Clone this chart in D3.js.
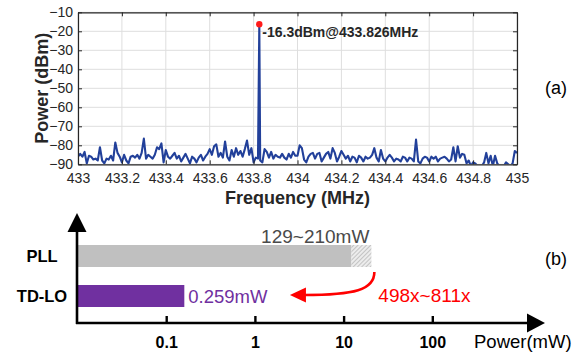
<!DOCTYPE html>
<html><head><meta charset="utf-8">
<script src="https://cdn.jsdelivr.net/npm/d3@7"></script>
<style>body{margin:0;background:#fff} svg{display:block;font-family:"Liberation Sans",Arial,sans-serif}</style>
</head><body><svg id="c" width="585" height="352"></svg>
<script>
// ---------- data (a) spectrum ----------
const freqStart = 433, freqStep = 0.01; // MHz grid of the noise trace
const noiseDbm = [
-86,-84.5,-86,-83.5,-89.5,-85.5,-86,-87.5,-87,-88,
-81,-88,-89.5,-87,-87.5,-85.5,-88,-78.5,-84,-86,
-89,-85,-88,-89.5,-86,-85.5,-86.5,-85,-87,-84,
-76.5,-87,-85,-86,
-87,-85,-81,-82,-79,-89,-82.5,-86,-87,-85.5,-84,-87,-85.5,-88.5,-86.5,-84.5,
-87,-89.5,-86,-87,-89,-86.5,-85,-88,-86,-84.5,-82,-85,-80.5,-79.5,-86,-84,
-86.5,-78,-86,-88,-82.5,-86,-81.5,-85,-83,-86,-82,-77.5,-85,-81.5,-89,-86.5,
-87,-88,-89,-82,-83.5,-86.5,-83.5,-87,-85,-86,-86.5,-84.5,-86.5,-87.5,-84.5,-86.5,-83.5,-85.5,
-85.5,-80,-81.5,-87.5,-89,-86,-84.5,-84,-87,-84.5,-84,-88.5,-86.5,-84.5,-83.5,-87,
-81.5,-84,-88.5,-86,-83,-85,-87,-85.5,-88.5,-86,-86.5,-89,-85.5,-86.5,-88.5,-86,-87,
-86.5,-85,-81.5,-86.5,-88.5,-82.5,-87,-88.5,-86.5,-85,-86.5,-88.5,-87,-87.5,-88.5,-86,
-86.5,-88.5,-86.5,-87,-88.5,-77,-88.5,-89.5,-87,-86,-86.5,-88.5,-86,-87,-86,-88.5,-87,
-86.5,-86,-87,-88.5,-87.5,-81,-88.5,-80.5,-86.5,-84.5,-85,-89.5,-88,-91,-89,-89.5,
-91,-91,-91,-89,-84,-89.5,-85.5,-91,-85.5,-89.5,-91,-91,-91,-89,-90,-91,-89.5,-83,-84
];
const peakFreq = [433.826];
const peakDbm = [-16.3];
const peakLabel = "-16.3dBm@433.826MHz";
const xTicksA = [433,433.2,433.4,433.6,433.8,434,434.2,434.4,434.6,434.8,435];
const yTicksA = [-10,-20,-30,-40,-50,-60,-70,-80,-90];

// ---------- data (b) power comparison ----------
const barCats = ["PLL","TD-LO"];
const barSolidEnd = [12.1, 0.158];   // drawn on the log axis as in the figure
const barHatchEnd = [20.3, 0.158];
const barLabels = ["129~210mW","0.259mW"];
const barColors = ["#c0c0c0","#7030a0"];
const barLabelColors = ["#4a4a4a","#7030a0"];
const xTicksB = [0.1,1,10,100];
const xTickLabelsB = ["0.1","1","10","100"];
const ratioLabel = "498x~811x";

const svg = d3.select("#c");
const axisCol = "#262626";

// ================= (a) =================
const L=78,R=517,T=12.3,B=164.3;
const x = d3.scaleLinear().domain([433,435]).range([L,R]);
const y = d3.scaleLinear().domain([-90,-10]).range([B,T]);

const gA = svg.append("g");
// grid
gA.append("g").selectAll("line").data(xTicksA).join("line")
  .attr("x1",d=>x(d)).attr("x2",d=>x(d)).attr("y1",T).attr("y2",B)
  .attr("stroke","#dedede").attr("stroke-width",1);
gA.append("g").selectAll("line").data(yTicksA).join("line")
  .attr("x1",L).attr("x2",R).attr("y1",d=>y(d)).attr("y2",d=>y(d))
  .attr("stroke","#dedede").attr("stroke-width",1);

// trace
const pts = noiseDbm.map((v,i)=>[+(freqStart+i*freqStep).toFixed(3), v]);
peakFreq.forEach((f,i)=>pts.push([f,peakDbm[i]]));
pts.sort((a,b)=>a[0]-b[0]);
svg.append("defs").append("clipPath").attr("id","clipA")
  .append("rect").attr("x",L).attr("y",T-10).attr("width",R-L).attr("height",B-T+10);
gA.append("path").datum(pts)
  .attr("clip-path","url(#clipA)")
  .attr("fill","none").attr("stroke","#22409a").attr("stroke-width",2.1)
  .attr("stroke-linejoin","round")
  .attr("d", d3.line().x(d=>x(d[0])).y(d=>y(d[1])));

// axes (ticks inside, box)
const fmtX = d=>String(+d.toFixed(1));
const axB = gA.append("g").attr("transform",`translate(0,${B})`)
  .call(d3.axisBottom(x).tickValues(xTicksA).tickFormat(fmtX).tickSize(-4).tickPadding(7).tickSizeOuter(0));
const axT = gA.append("g").attr("transform",`translate(0,${T})`)
  .call(d3.axisTop(x).tickValues(xTicksA).tickFormat("").tickSize(-4).tickSizeOuter(0));
const axL = gA.append("g").attr("transform",`translate(${L},0)`)
  .call(d3.axisLeft(y).tickValues(yTicksA).tickSize(-4).tickPadding(5).tickSizeOuter(0));
const axR = gA.append("g").attr("transform",`translate(${R},0)`)
  .call(d3.axisRight(y).tickValues(yTicksA).tickFormat("").tickSize(-4).tickSizeOuter(0));
[axB,axT,axL,axR].forEach(a=>{
  a.selectAll("path.domain").attr("stroke",axisCol).attr("stroke-width",1.2);
  a.selectAll(".tick line").attr("stroke",axisCol);
  a.selectAll("text").attr("fill",axisCol).attr("font-size",14)
   .attr("font-family",'"Liberation Sans",Arial,sans-serif');
});
axB.selectAll("text").attr("dy","0.85em");

// peak marker & label
gA.append("g").selectAll("circle").data(peakFreq).join("circle")
  .attr("cx",d=>x(d)).attr("cy",(d,i)=>y(peakDbm[i])).attr("r",3.2).attr("fill","#ff1a1a");
gA.append("text").attr("x",x(peakFreq[0])+3).attr("y",y(peakDbm[0])+13)
  .attr("font-size",14).attr("font-weight","bold").attr("fill","#262626").text(peakLabel);

// axis titles
gA.append("text").attr("transform",`translate(42,${(T+B)/2}) rotate(-90)`)
  .attr("text-anchor","middle").attr("dy","0.36em").attr("font-size",18).attr("font-weight","bold")
  .attr("fill","#262626").text("Power (dBm)");
gA.append("text").attr("x",(L+R)/2).attr("y",204).attr("text-anchor","middle")
  .attr("font-size",18).attr("font-weight","bold").attr("fill","#262626").text("Frequency (MHz)");
svg.append("text").attr("x",556).attr("y",88).attr("dy","0.36em").attr("text-anchor","middle")
  .attr("font-size",18).attr("fill","#000").text("(a)");

// ================= (b) =================
const xb = d3.scaleLog().domain([0.01,1000]).range([78,521.5]);
const yb = d3.scalePoint().domain(barCats).range([256,296]);
const bh = 22, axY = 323, axX = 77;
const gB = svg.append("g");

// hatch pattern
const pat = svg.select("defs").append("pattern").attr("id","hatch")
  .attr("patternUnits","userSpaceOnUse").attr("width",3).attr("height",3)
  .attr("patternTransform","rotate(45)");
pat.append("rect").attr("width",3).attr("height",3).attr("fill","#ececec");
pat.append("line").attr("x1",0).attr("y1",0).attr("x2",0).attr("y2",3)
  .attr("stroke","#a8a8a8").attr("stroke-width",1.2);

// bars
gB.selectAll("rect.solid").data(barCats).join("rect").attr("class","solid")
  .attr("x",xb(0.01)).attr("y",d=>yb(d)-bh/2)
  .attr("width",(d,i)=>xb(barSolidEnd[i])-xb(0.01)).attr("height",bh)
  .attr("fill",(d,i)=>barColors[i]);
gB.selectAll("rect.hatch").data(barCats).join("rect").attr("class","hatch")
  .attr("x",(d,i)=>xb(barSolidEnd[i])).attr("y",d=>yb(d)-bh/2)
  .attr("width",(d,i)=>xb(barHatchEnd[i])-xb(barSolidEnd[i])).attr("height",bh)
  .attr("fill","url(#hatch)");

// category labels
gB.selectAll("text.cat").data(barCats).join("text").attr("class","cat")
  .attr("x",42).attr("y",d=>yb(d)).attr("dy","0.36em").attr("text-anchor","middle")
  .attr("font-size",16.5).attr("font-weight","bold").attr("fill","#000").text(d=>d);

// value labels
gB.append("text").attr("x",xb(barHatchEnd[0])-2).attr("y",yb(barCats[0])-20)
  .attr("dy","0.36em").attr("text-anchor","end")
  .attr("font-size",19).attr("fill",barLabelColors[0]).text(barLabels[0]);
gB.append("text").attr("x",xb(barHatchEnd[1])+4).attr("y",yb(barCats[1]))
  .attr("dy","0.36em").attr("font-size",18.5).attr("fill",barLabelColors[1]).text(barLabels[1]);

// axes with arrows
gB.append("line").attr("x1",axX).attr("x2",axX).attr("y1",axY+1).attr("y2",230)
  .attr("stroke","#000").attr("stroke-width",2.6);
gB.append("path").attr("d",`M${axX},213 L${axX+9.5},232 L${axX-9.5},232 Z`).attr("fill","#000");
gB.append("line").attr("x1",axX-1).attr("x2",529).attr("y1",axY).attr("y2",axY)
  .attr("stroke","#000").attr("stroke-width",2.6);
gB.append("path").attr("d",`M545,${axY} L527,${axY-9.5} L527,${axY+9.5} Z`).attr("fill","#000");
gB.selectAll("line.tk").data(xTicksB).join("line").attr("class","tk")
  .attr("x1",d=>xb(d)).attr("x2",d=>xb(d)).attr("y1",axY).attr("y2",axY-7)
  .attr("stroke","#000").attr("stroke-width",2.4);
gB.selectAll("text.tl").data(xTicksB).join("text").attr("class","tl")
  .attr("x",d=>xb(d)).attr("y",342).attr("dy","0.36em").attr("text-anchor","middle")
  .attr("font-size",16).attr("font-weight","bold").attr("fill","#000")
  .text((d,i)=>xTickLabelsB[i]);
gB.append("text").attr("x",474).attr("y",341).attr("dy","0.36em")
  .attr("font-size",18.5).attr("fill","#000").text("Power(mW)");
svg.append("text").attr("x",556).attr("y",259).attr("dy","0.36em").attr("text-anchor","middle")
  .attr("font-size",18).attr("fill","#000").text("(b)");

// red curved arrow
const sx = xb(barHatchEnd[0])+3, sy = yb(barCats[0])+bh/2+5;
const tipX = xb(2.45), tipY = yb(barCats[1])-1;
gB.append("path")
  .attr("d",`M${sx},${sy} C${sx},${sy+18} ${sx-20},${tipY} ${tipX+14},${tipY}`)
  .attr("fill","none").attr("stroke","#ff0000").attr("stroke-width",2.6);
gB.append("path").attr("d",`M${tipX},${tipY} L${tipX+16},${tipY-7.5} L${tipX+16},${tipY+7.5} Z`)
  .attr("fill","#ff0000");
gB.append("text").attr("x",sx+4).attr("y",tipY).attr("dy","0.36em")
  .attr("font-size",19).attr("fill","#ff0000").text(ratioLabel);
</script></body></html>
